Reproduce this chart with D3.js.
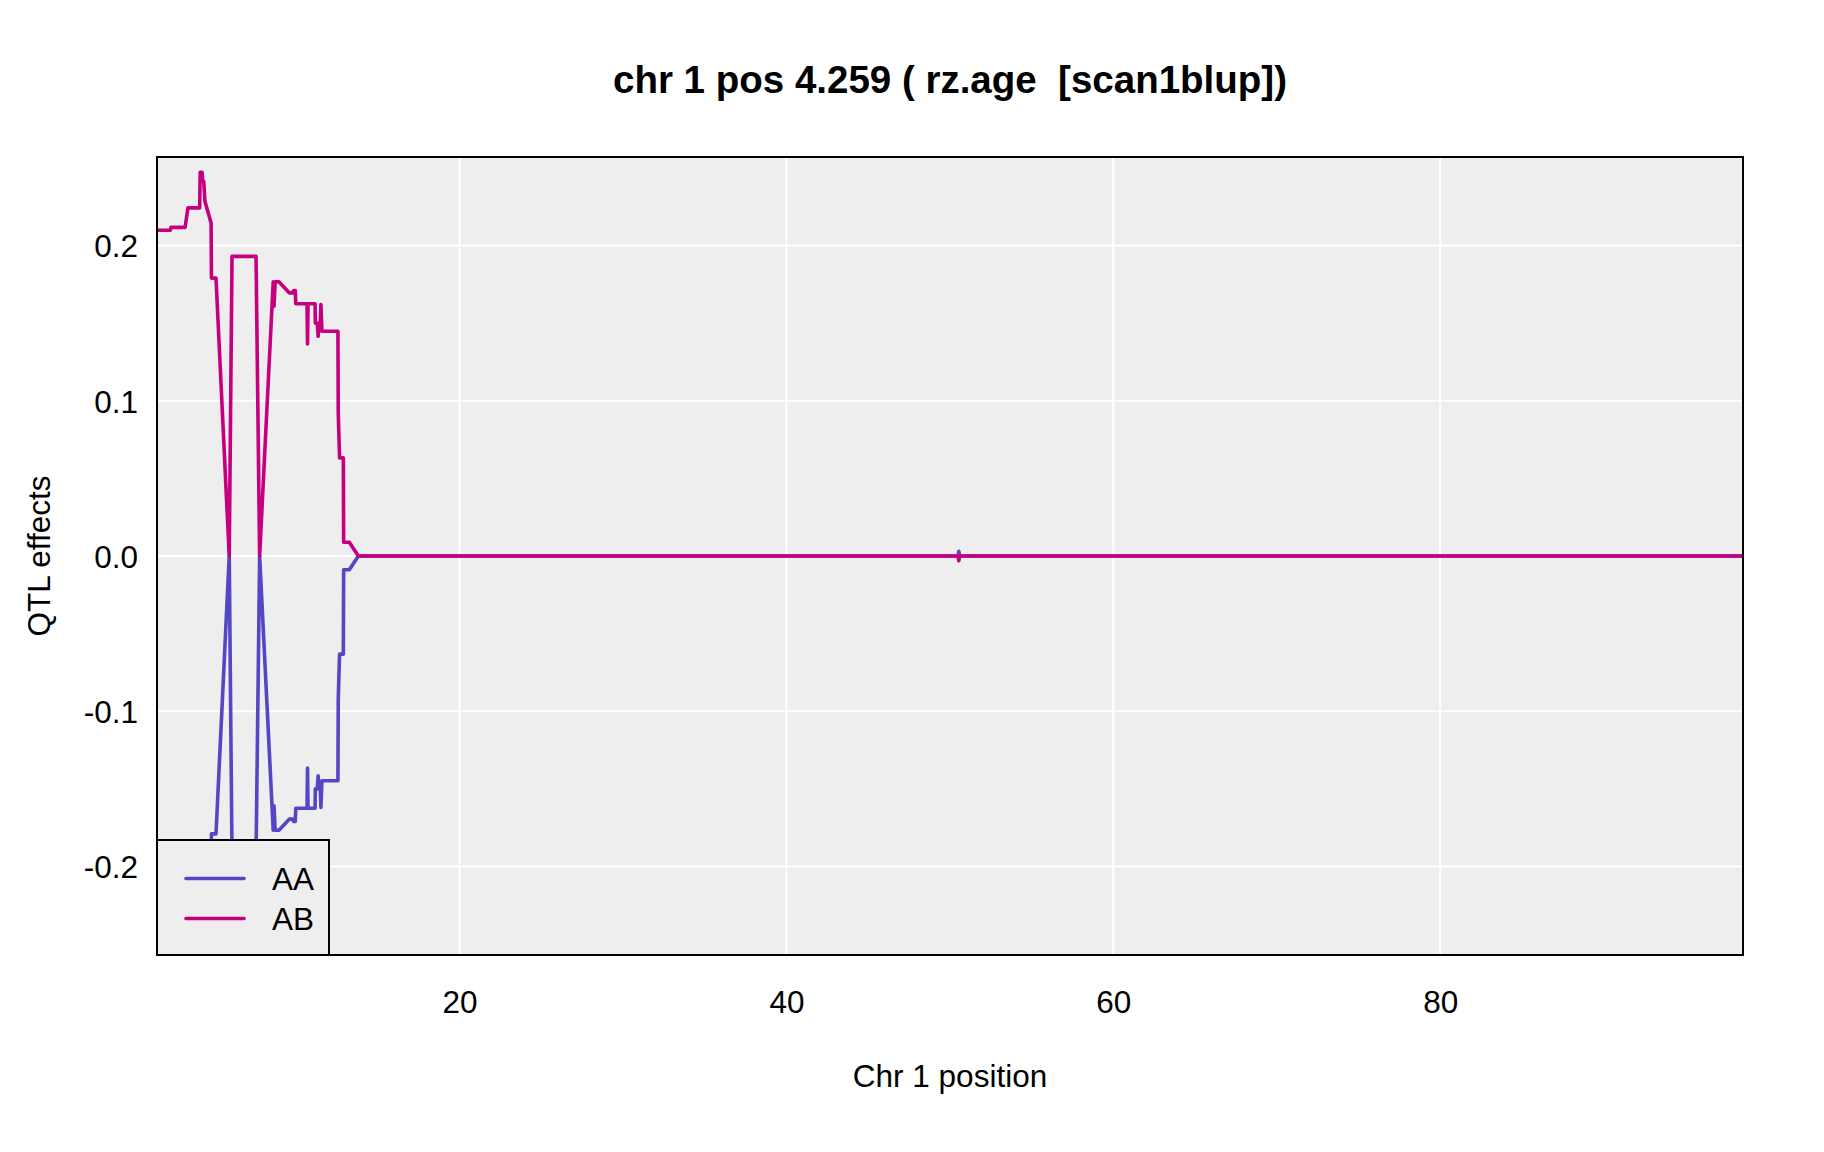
<!DOCTYPE html>
<html>
<head>
<meta charset="utf-8">
<script src="https://cdn.jsdelivr.net/npm/d3@7"></script>
<style>
  html, body { margin: 0; padding: 0; background: #ffffff; }
  svg text { font-family: "Liberation Sans", Arial, Helvetica, sans-serif; white-space: pre; }
</style>
</head>
<body>
<svg id="chart" width="1824" height="1152"></svg>
<script>
// ---- data ----
const titleText = "chr 1 pos 4.259 ( rz.age  [scan1blup])";
const xLabel = "Chr 1 position";
const yLabel = "QTL effects";
const seriesNames = ["AA", "AB"];
const seriesColors = ["#5546C5", "#C5007F"];

const positions = [1.51, 2.30, 2.35, 3.21, 3.38, 4.10, 4.13, 4.25, 4.28, 4.35,
  4.42, 4.80, 4.82, 5.10, 5.91, 6.08, 7.55, 7.77, 8.60, 8.65,
  8.72, 8.95, 9.58, 9.80, 9.85, 9.95, 9.98, 10.67, 10.70, 10.73,
  11.16, 11.18, 11.30, 11.35, 11.40, 11.48, 11.52, 11.58, 12.56, 12.58,
  12.66, 12.89, 12.91, 13.26, 13.81, 50.50, 50.55, 50.60, 98.53];

const effectAB = [0.2098, 0.2098, 0.2117, 0.2117, 0.2242, 0.2242, 0.2471, 0.2471, 0.2414, 0.2414,
  0.2285, 0.2145, 0.1790, 0.1790, 0.0000, 0.1930, 0.1930, 0.0000, 0.1766, 0.1609,
  0.1766, 0.1766, 0.1695, 0.1695, 0.1710, 0.1710, 0.1625, 0.1625, 0.1366, 0.1625,
  0.1625, 0.1500, 0.1500, 0.1415, 0.1500, 0.1500, 0.1620, 0.1448, 0.1448, 0.0922,
  0.0632, 0.0632, 0.0089, 0.0089, 0.0000, 0.0000, -0.0030, 0.0000, 0.0000];

const effectAA = [-0.2098, -0.2098, -0.2117, -0.2117, -0.2242, -0.2242, -0.2471, -0.2471, -0.2414, -0.2414,
  -0.2285, -0.2145, -0.1790, -0.1790, 0.0000, -0.1930, -0.1930, 0.0000, -0.1766, -0.1609,
  -0.1766, -0.1766, -0.1695, -0.1695, -0.1710, -0.1710, -0.1625, -0.1625, -0.1366, -0.1625,
  -0.1625, -0.1500, -0.1500, -0.1415, -0.1500, -0.1500, -0.1620, -0.1448, -0.1448, -0.0922,
  -0.0632, -0.0632, -0.0089, -0.0089, 0.0000, 0.0000, 0.0030, 0.0000, 0.0000];

const xTicks = [20, 40, 60, 80];
const xTickLabels = ["20", "40", "60", "80"];
const yTicks = [-0.2, -0.1, 0.0, 0.1, 0.2];
const yTickLabels = ["-0.2", "-0.1", "0.0", "0.1", "0.2"];

// ---- layout ----
const plot = { left: 157, right: 1743, top: 157, bottom: 955 };
const svg = d3.select("#chart");
const fontSize = 31.5;
const lineWidth = 3.6;

const x = d3.scaleLinear().domain([1.49, 98.53]).range([plot.left, plot.right]);
const y = d3.scaleLinear().domain([-0.257, 0.257]).range([plot.bottom, plot.top]);

// background
svg.append("rect")
  .attr("x", plot.left).attr("y", plot.top)
  .attr("width", plot.right - plot.left).attr("height", plot.bottom - plot.top)
  .attr("fill", "#EEEEEE");

// grid
const grid = svg.append("g");
grid.selectAll("line.v").data(xTicks).enter().append("line")
  .attr("x1", d => x(d)).attr("x2", d => x(d))
  .attr("y1", plot.top).attr("y2", plot.bottom)
  .attr("stroke", "#ffffff").attr("stroke-width", 2);
grid.selectAll("line.h").data(yTicks).enter().append("line")
  .attr("y1", d => y(d)).attr("y2", d => y(d))
  .attr("x1", plot.left).attr("x2", plot.right)
  .attr("stroke", "#ffffff").attr("stroke-width", 2);

// lines
svg.append("clipPath").attr("id", "clip").append("rect")
  .attr("x", plot.left).attr("y", plot.top)
  .attr("width", plot.right - plot.left).attr("height", plot.bottom - plot.top);

const series = [effectAA, effectAB];
const line = d3.line().x(d => x(d[0])).y(d => y(d[1]));
series.forEach((vals, i) => {
  const pts = positions.map((p, j) => [p, vals[j]]);
  svg.append("path")
    .attr("d", line(pts))
    .attr("fill", "none")
    .attr("stroke", seriesColors[i])
    .attr("stroke-width", lineWidth)
    .attr("stroke-linejoin", "round")
    .attr("stroke-linecap", "round")
    .attr("clip-path", "url(#clip)");
});

// axes labels (no tick marks)
const xAxis = d3.axisBottom(x).tickValues(xTicks).tickFormat((d, i) => xTickLabels[i]).tickSize(0).tickPadding(0);
const gx = svg.append("g").attr("transform", `translate(0, 991)`).call(xAxis);
gx.select(".domain").remove();
gx.selectAll("text").attr("font-size", fontSize).attr("fill", "#000").attr("font-family", "Liberation Sans, Arial, sans-serif").attr("dy", "0.71em");

const yAxis = d3.axisLeft(y).tickValues(yTicks).tickFormat((d, i) => yTickLabels[i]).tickSize(0).tickPadding(0);
const gy = svg.append("g").attr("transform", `translate(138, 0)`).call(yAxis);
gy.select(".domain").remove();
gy.selectAll("text").attr("font-size", fontSize).attr("fill", "#000").attr("font-family", "Liberation Sans, Arial, sans-serif").attr("dy", "0.36em");

// plot border
svg.append("rect")
  .attr("x", plot.left).attr("y", plot.top)
  .attr("width", plot.right - plot.left).attr("height", plot.bottom - plot.top)
  .attr("fill", "none").attr("stroke", "#000").attr("stroke-width", 2);

// legend
const leg = { x: 157, y: 840, w: 172, h: 115 };
svg.append("rect")
  .attr("x", leg.x).attr("y", leg.y).attr("width", leg.w).attr("height", leg.h)
  .attr("fill", "#EEEEEE").attr("stroke", "#000").attr("stroke-width", 2);
seriesNames.forEach((name, i) => {
  const ly = 878.5 + i * 40;
  svg.append("line")
    .attr("x1", 186).attr("x2", 244).attr("y1", ly).attr("y2", ly)
    .attr("stroke", seriesColors[i]).attr("stroke-width", lineWidth).attr("stroke-linecap", "round");
  svg.append("text")
    .attr("x", 272).attr("y", ly).attr("dy", "0.36em")
    .attr("font-size", fontSize).attr("fill", "#000").text(name);
});

// titles
svg.append("text")
  .attr("x", (plot.left + plot.right) / 2).attr("y", 93)
  .attr("text-anchor", "middle").attr("font-size", 38.5).attr("font-weight", "bold")
  .attr("fill", "#000").text(titleText);

svg.append("text")
  .attr("x", (plot.left + plot.right) / 2).attr("y", 1087)
  .attr("text-anchor", "middle").attr("font-size", fontSize).attr("fill", "#000").text(xLabel);

svg.append("text")
  .attr("transform", `translate(50, ${(plot.top + plot.bottom) / 2}) rotate(-90)`)
  .attr("text-anchor", "middle").attr("font-size", fontSize).attr("fill", "#000").text(yLabel);
</script>
</body>
</html>
